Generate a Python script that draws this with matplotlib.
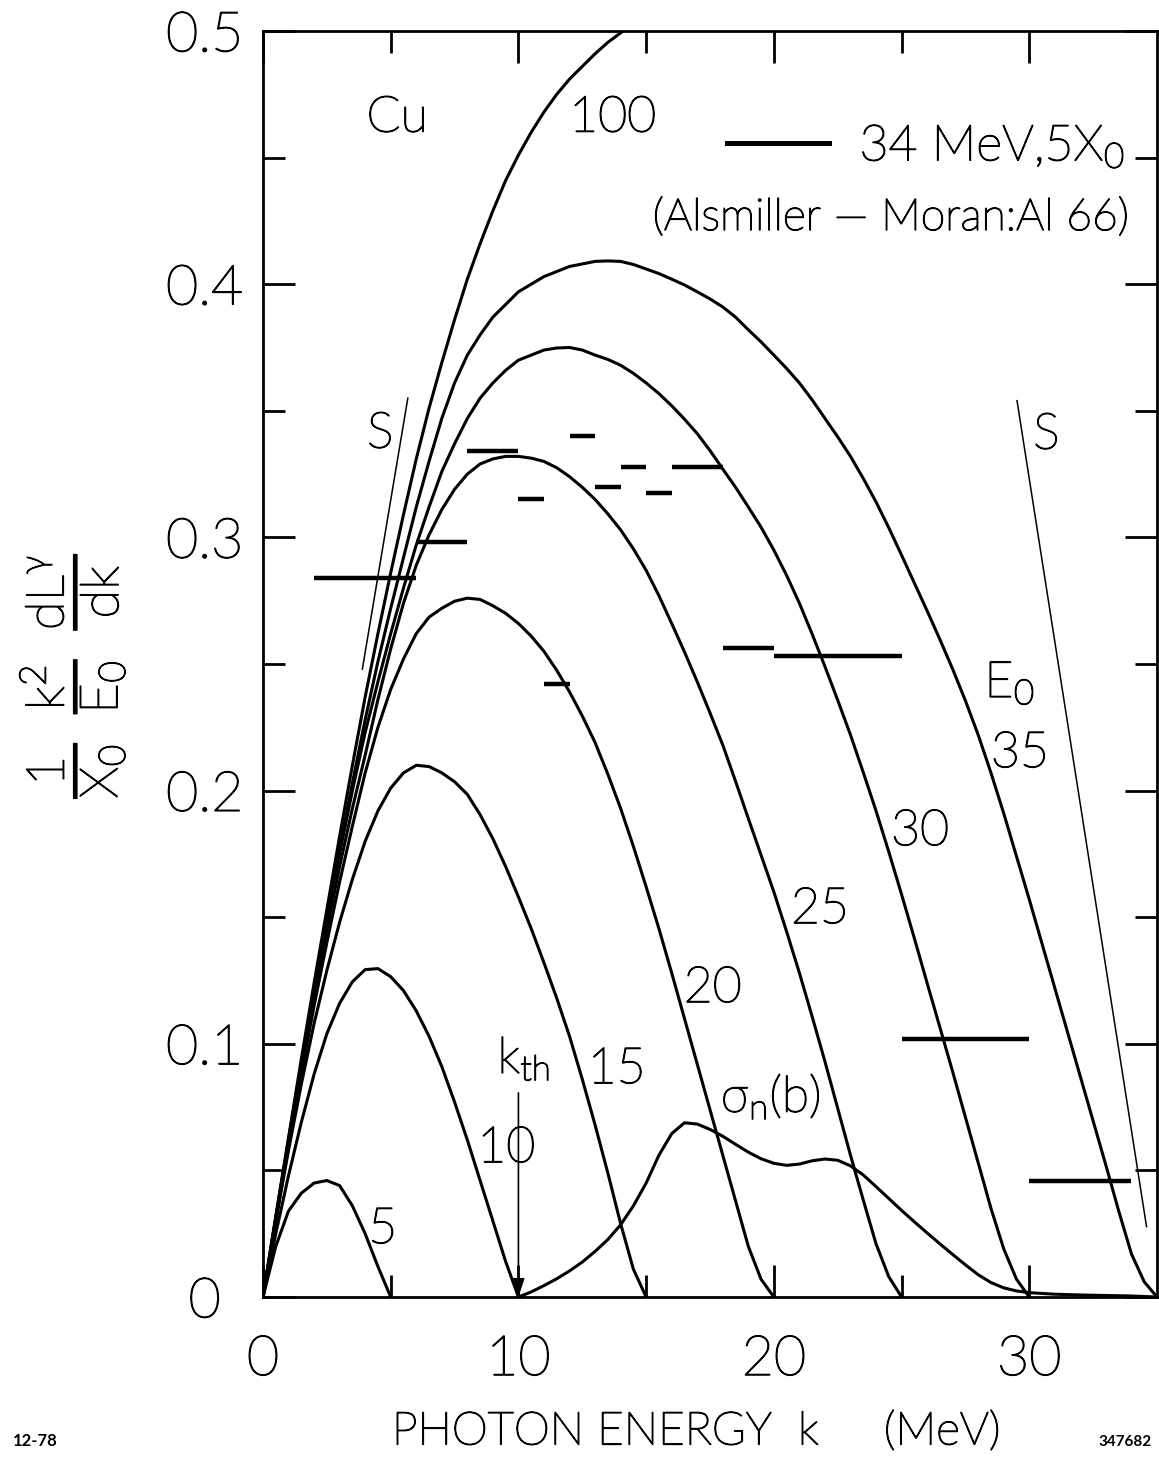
import matplotlib
matplotlib.use("Agg")
import matplotlib.pyplot as plt
import matplotlib.patheffects as patheffects
from matplotlib.lines import Line2D

# photon energy k (MeV) and (1/X0)(k^2/E0)dL/dk, one curve per E0
k5 = [0, 0.5, 1, 1.5, 2, 2.5, 3, 3.5, 4, 4.5, 5]
y5 = [0, .020, .034, .041, .045, .046, .044, .036, .025, .012, 0]

k10 = [0, .5, 1, 1.5, 2, 2.5, 3, 3.5, 4, 4.5, 5, 5.5, 6, 6.5, 7, 7.5, 8, 8.5, 9, 9.5, 10]
y10 = [0, .025, .048, .069, .088, .104, .116, .1245, .1293, .1297, .1265, .121, .113, .103,
       .091, .077, .062, .046, .030, .014, 0]

k15 = [0, .5, 1, 1.5, 2, 2.5, 3, 3.5, 4, 4.5, 5, 5.5, 6, 6.5, 7, 7.5, 8, 8.5, 9, 9.5, 10,
       10.5, 11, 11.5, 12, 12.5, 13, 13.5, 14, 14.5, 15]
y15 = [0, .030, .058, .084, .108, .129, .148, .165, .180, .192, .201, .207, .210, .2095,
       .207, .2035, .1985, .1905, .181, .170, .158, .1455, .132, .118, .103, .086, .068,
       .049, .029, .011, 0]

k20 = [0, .5, 1, 1.5, 2, 2.5, 3, 3.5, 4, 4.5, 5, 5.5, 6, 6.5, 7, 7.5, 8, 8.5, 9, 9.5, 10,
       10.5, 11, 11.5, 12, 12.5, 13, 13.5, 14, 14.5, 15, 15.5, 16, 16.5, 17, 17.5, 18,
       18.5, 19, 19.5, 20]
y20 = [0, .030, .060, .088, .115, .140, .164, .186, .207, .225, .240, .252, .262, .2685,
       .272, .2748, .276, .2755, .273, .270, .266, .261, .255, .2475, .239, .2295, .219,
       .2065, .193, .178, .162, .1455, .128, .110, .092, .074, .056, .038, .020, .007, 0]

k25 = [0, .5, 1, 1.5, 2, 2.5, 3, 3.5, 4, 4.5, 5, 5.5, 6, 6.5, 7, 7.5, 8, 8.5, 9, 9.5, 10,
       10.5, 11, 11.5, 12, 12.5, 13, 13.5, 14, 14.5, 15, 15.5, 16, 16.5, 17, 17.5, 18,
       18.5, 19, 19.5, 20, 20.5, 21, 21.5, 22, 22.5, 23, 23.5, 24, 24.5, 25]
y25 = [0, .031, .061, .091, .119, .145, .170, .193, .214, .236, .256, .274, .289, .301,
       .311, .319, .325, .329, .331, .332, .332, .3313, .330, .3275, .324, .3198, .315,
       .3093, .303, .2955, .287, .277, .266, .2548, .243, .2307, .218, .2037, .189, .1745,
       .160, .1443, .128, .1107, .093, .0745, .056, .0383, .021, .008, 0]

k30 = [0, .5, 1, 1.5, 2, 2.5, 3, 3.5, 4, 4.5, 5, 5.5, 6, 6.5, 7, 7.5, 8, 8.5, 9, 9.5, 10,
       10.5, 11, 11.5, 12, 12.5, 13, 13.5, 14, 14.5, 15, 15.5, 16, 16.5, 17, 17.5, 18,
       18.5, 19, 19.5, 20, 20.5, 21, 21.5, 22, 22.5, 23, 23.5, 24, 24.5, 25, 25.5, 26,
       26.5, 27, 27.5, 28, 28.5, 29, 29.5, 30]
y30 = [0, .031, .062, .092, .121, .149, .175, .200, .223, .243, .262, .280, .297, .312,
       .326, .337, .347, .355, .361, .366, .370, .372, .374, .3748, .375, .374, .372,
       .3703, .368, .3648, .361, .3568, .352, .3467, .341, .3343, .327, .3198, .312, .304,
       .295, .285, .274, .2618, .249, .2357, .222, .2072, .192, .1758, .159, .1417, .124,
       .1065, .089, .071, .053, .035, .019, .007, 0]

k35 = [0, .5, 1, 1.5, 2, 2.5, 3, 3.5, 4, 4.5, 5, 5.5, 6, 6.5, 7, 7.5, 8, 8.5, 9, 9.5, 10,
       10.5, 11, 11.5, 12, 12.5, 13, 13.5, 14, 14.5, 15, 15.5, 16, 16.5, 17, 17.5, 18,
       18.5, 19, 19.5, 20, 20.5, 21, 21.5, 22, 22.5, 23, 23.5, 24, 24.5, 25, 25.5, 26,
       26.5, 27, 27.5, 28, 28.5, 29, 29.5, 30, 30.5, 31, 31.5, 32, 32.5, 33, 33.5, 34,
       34.5, 35]
y35 = [0, .031, .062, .092, .122, .150, .177, .203, .228, .251, .272, .292, .312, .330,
       .347, .361, .372, .380, .387, .392, .397, .400, .403, .405, .407, .408, .409, .4092,
       .409, .4078, .406, .4042, .402, .3997, .397, .3942, .391, .387, .382, .3772, .372,
       .3667, .361, .3543, .347, .3397, .332, .3233, .314, .3038, .293, .282, .271, .2597,
       .248, .2355, .222, .207, .191, .174, .157, .1395, .122, .1045, .087, .0695, .052,
       .034, .017, .006, 0]

k100 = [0, .5, 1, 1.5, 2, 2.5, 3, 3.5, 4, 4.5, 5, 5.5, 6, 6.5, 7, 7.5, 8, 8.5, 9, 9.5, 10,
        10.5, 11, 11.5, 12, 12.5, 13, 13.5, 14.1]
y100 = [0, .032, .063, .094, .124, .153, .182, .210, .237, .262, .286, .309, .331, .351,
        .369, .386, .402, .416, .429, .441, .451, .460, .468, .475, .481, .486, .491, .4955,
        .500]

# photoneutron cross section sigma_n (b), same axis
k_sig = [10, 10.5, 11, 11.5, 12, 12.5, 13, 13.5, 14, 14.5, 15, 15.5, 16, 16.5, 17, 17.5,
         18, 18.5, 19, 19.5, 20, 20.5, 21, 21.5, 22, 22.5, 23, 23.5, 24, 24.5, 25, 25.5,
         26, 26.5, 27, 27.5, 28, 28.5, 29, 29.5, 30, 31, 32, 33, 34, 35]
y_sig = [0, .002, .0045, .0072, .0103, .0138, .018, .0227, .0285, .036, .045, .056,
         .0645, .0688, .0683, .0662, .0635, .0603, .0572, .0546, .0528, .052, .0525, .0538,
         .0545, .054, .0518, .0482, .0436, .0389, .0342, .0297, .0253, .021, .0168, .0127,
         .0088, .0057, .0036, .0024, .0017, .0011, .0008, .0006, .0004, 0]

# Alsmiller-Moran 34 MeV, 5 X0 histogram
bin_lo = [2, 6, 8, 10, 11, 12, 13, 14, 15, 16, 18, 20, 25, 30]
bin_hi = [6, 8, 10, 11, 12, 13, 14, 15, 16, 18, 20, 25, 30, 34]
bin_val = [.284, .298, .334, .315, .242, .340, .320, .328, .3175, .328, .2565, .253, .102, .046]

# the two "S" lines
s_left_k = [3.89, 5.67]
s_left_y = [0.248, 0.355]
s_right_k = [29.52, 34.59]
s_right_y = [0.354, 0.0278]

x_ticks = [0, 10, 20, 30]
x_minor = [5, 15, 25]
y_ticks = [0, 0.1, 0.2, 0.3, 0.4, 0.5]
y_tick_labels = ["0", "0.1", "0.2", "0.3", "0.4", "0.5"]
y_minor = [0.05, 0.15, 0.25, 0.35, 0.45]

plt.rcParams['font.family'] = ['Lato', 'DejaVu Sans']
plt.rcParams['font.weight'] = 'light'
plt.rcParams['mathtext.fontset'] = 'custom'
plt.rcParams['mathtext.rm'] = 'Lato:light'
plt.rcParams['mathtext.it'] = 'Lato:light'
plt.rcParams['mathtext.sf'] = 'Lato:light'
plt.rcParams['mathtext.fallback'] = 'stixsans'

# thin lettering drawn a little heavier, like the inked original
pe = [patheffects.withStroke(linewidth=1.0, foreground='black')]

fig = plt.figure(figsize=(11.59, 14.62), dpi=100)
ax = fig.add_axes([263 / 1159, 165 / 1462, 894 / 1159, 1266 / 1462])

lw = 2.2
for kk, yy in [(k5, y5), (k10, y10), (k15, y15), (k20, y20), (k25, y25),
               (k30, y30), (k35, y35), (k100, y100), (k_sig, y_sig)]:
    ax.plot(kk, yy, color='black', lw=lw, solid_joinstyle='round')

ax.hlines(bin_val, bin_lo, bin_hi, colors='black', lw=3.2)
ax.plot(s_left_k, s_left_y, color='black', lw=1.1)
ax.plot(s_right_k, s_right_y, color='black', lw=1.1)

# threshold arrow
ax.annotate('', xy=(10, 0), xytext=(10, 0.0806),
            arrowprops=dict(arrowstyle='-|>,head_length=0.45,head_width=0.15',
                            color='black', lw=1.2, mutation_scale=25, shrinkA=0, shrinkB=0))

ax.set_xlim(0, 35)
ax.set_ylim(0, 0.5)
ax.set_xticks(x_ticks)
ax.set_xticks(x_minor, minor=True)
ax.set_yticks(y_ticks)
ax.set_yticklabels(y_tick_labels)
ax.set_yticks(y_minor, minor=True)
for lab in ax.get_yticklabels():
    lab.set_horizontalalignment('center')
ax.tick_params(which='both', direction='in', top=True, right=True, width=2)
ax.tick_params(which='major', length=23, labelsize=40)
ax.tick_params(axis='y', which='major', pad=42)
ax.tick_params(axis='x', which='major', pad=27)
ax.tick_params(which='minor', length=16)
for lab in ax.get_xticklabels() + ax.get_yticklabels():
    lab.set_path_effects(pe)
for sp in ax.spines.values():
    sp.set_linewidth(2)

fs = 36
labels = [
    (5.25, 0.4656, 'Cu', 'center', 'center'),
    (13.69, 0.4656, '100', 'center', 'center'),
    (4.59, 0.3408, 'S', 'center', 'center'),
    (30.67, 0.3404, 'S', 'center', 'center'),
    (28.24, 0.237, r'E$_\mathrm{0}$', 'left', 'baseline'),
    (28.5, 0.2093, '35', 'left', 'baseline'),
    (24.59, 0.1785, '30', 'left', 'baseline'),
    (20.67, 0.1477, '25', 'left', 'baseline'),
    (16.47, 0.1165, '20', 'left', 'baseline'),
    (12.71, 0.0845, '15', 'left', 'baseline'),
    (8.39, 0.0533, '10', 'left', 'baseline'),
    (4.12, 0.0213, '5', 'left', 'baseline'),
    (9.18, 0.0885, r'k$_\mathrm{th}$', 'left', 'baseline'),
    (17.92, 0.073, '\u03c3$_\\mathrm{n}$(b)', 'left', 'baseline'),
]
for x, y, s, ha, va in labels:
    ax.text(x, y, s, fontsize=fs, ha=ha, va=va, path_effects=pe)
ax.text(24.6, 0.4214, '(Alsmiller \u2014 Moran:Al 66)', fontsize=32, ha='center',
        va='baseline', path_effects=pe)

handle = Line2D([], [], color='black', lw=3.6)
leg = ax.legend([handle], [r'34 MeV,5X$_\mathrm{0}$'], loc='center left',
                bbox_to_anchor=(0.519, 0.909), frameon=False, fontsize=fs,
                handlelength=2.05, handletextpad=0.6, borderpad=0, borderaxespad=0)
for t in leg.get_texts():
    t.set_path_effects(pe)

ax.set_xlabel('PHOTON ENERGY  k     (MeV)', fontsize=33, fontweight='light',
              va='center', path_effects=pe)
ax.xaxis.set_label_coords(0.4855, -0.1066)
ax.set_ylabel(r'$\dfrac{\mathrm{1}}{\mathrm{X_0}}\;\;\dfrac{\mathrm{k^2}}{\mathrm{E_0}}'
              r'\;\;\dfrac{\mathrm{dL^{\gamma}}}{\mathrm{dk}}$',
              fontsize=38, va='center', path_effects=pe)
ax.yaxis.set_label_coords(-0.2136, 0.491)

fig.text(35 / 1159, 1 - 1441 / 1462, '12-78', fontsize=12, fontweight='bold',
         ha='center', va='center')
fig.text(1125 / 1159, 1 - 1442 / 1462, '347682', fontsize=11, fontweight='bold',
         ha='center', va='center')

fig.savefig('out.png', dpi=100)
